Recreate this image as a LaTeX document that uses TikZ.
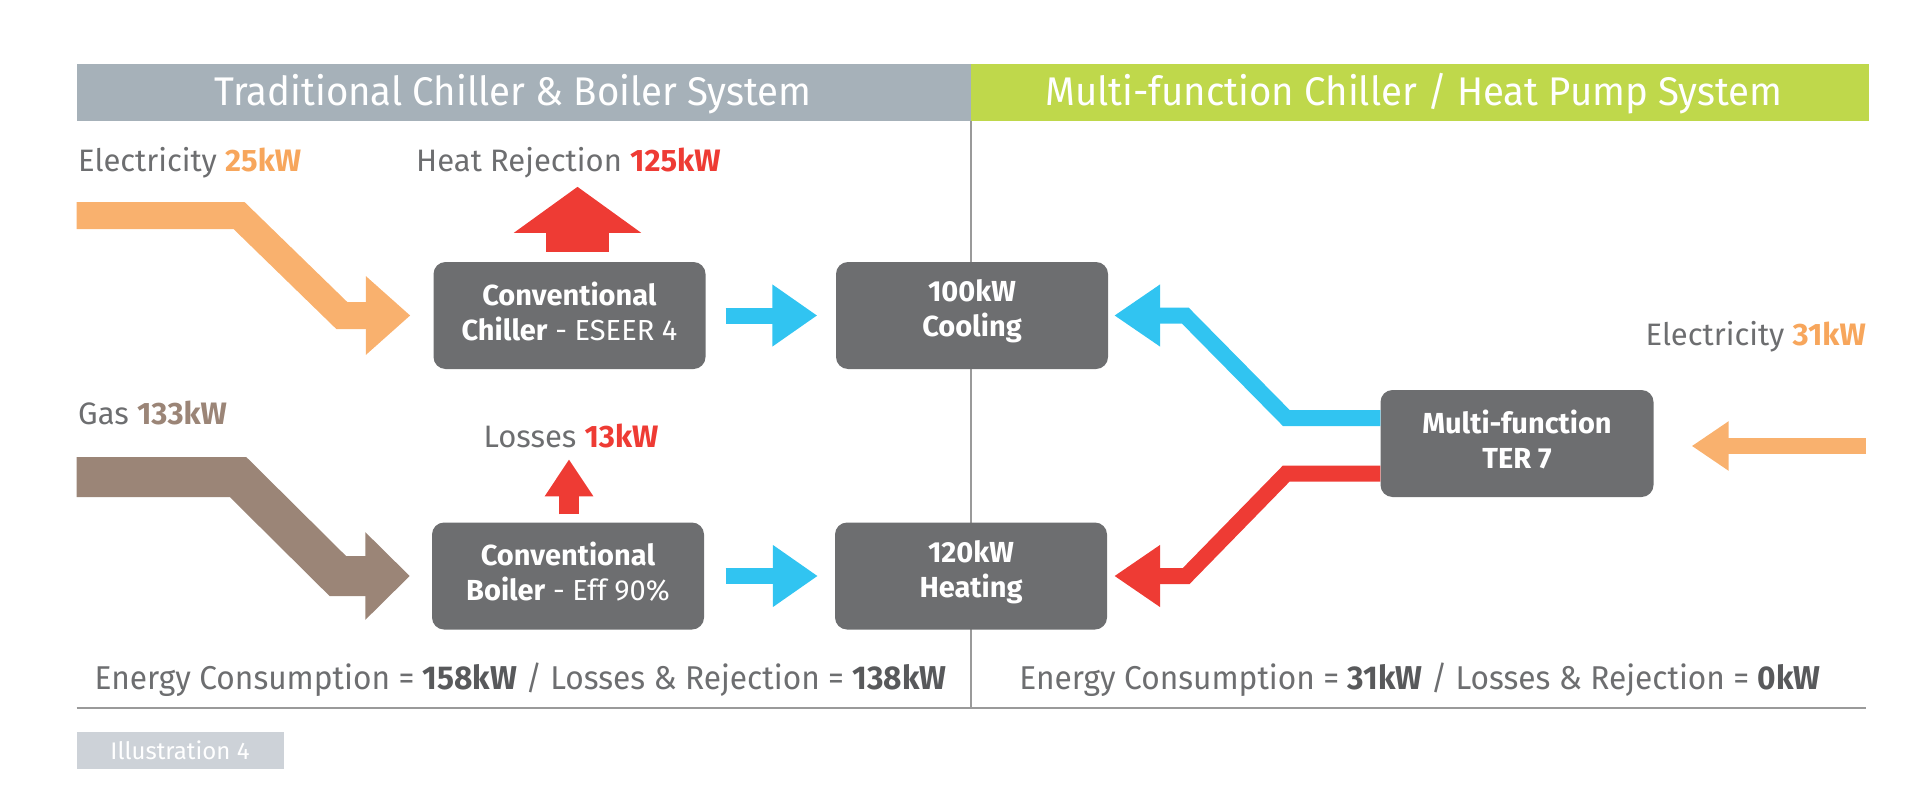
\documentclass[tikz,border=0pt]{standalone}
\usepackage{fontspec}
\setmainfont{Fira Sans}
\newfontfamily\condfont[FakeStretch=0.96]{Fira Sans}
\usetikzlibrary{arrows.meta,calc}
\definecolor{hdrgray}{HTML}{A6B1B9}
\definecolor{hdrgreen}{HTML}{BFD84B}
\definecolor{orangeA}{HTML}{F9B16E}
\definecolor{orangeT}{HTML}{F7A65C}
\definecolor{redA}{HTML}{EE3B34}
\definecolor{brownA}{HTML}{9B8577}
\definecolor{blueA}{HTML}{31C4F1}
\definecolor{boxgray}{HTML}{6D6E70}
\definecolor{txtgray}{HTML}{6D6E70}
\definecolor{txtdark}{HTML}{58595B}
\definecolor{linegray}{HTML}{9A9A9A}
\definecolor{illgray}{HTML}{CDD2D8}
\begin{document}
\begin{tikzpicture}[x=1pt,y=-1pt,
  box/.style={fill=boxgray, rounded corners=12pt, minimum width=272pt, minimum height=107pt,
    inner sep=0pt},
  boxtxt/.style={align=center, text=white, inner sep=0pt, font=\fontsize{29}{35}\selectfont},
  lbl/.style={text=txtgray, inner sep=0pt, font=\fontsize{31}{36}\selectfont},
  hdr/.style={text=white, inner sep=0pt, font=\condfont\fontsize{40}{48}\selectfont},
  sumtxt/.style={text=txtgray, inner sep=0pt, font=\condfont\fontsize{33}{40}\selectfont},
  flow/.style={line join=miter, line cap=butt},
  bluearrow/.style={flow, draw=blueA, line width=16pt, -{Triangle[length=45pt,width=59pt]}},
  redbend/.style={flow, draw=redA, line width=16pt, -{Triangle[length=46pt,width=59pt]}},
]
\useasboundingbox (0,0) rectangle (1920,800);
% headers
\fill[hdrgray] (76.5,64) rectangle (971,121);
\fill[hdrgreen] (971,64) rectangle (1869,121);
\node[hdr, anchor=base] (h1) at (513,105) {Traditional Chiller \& Boiler System};
\node[hdr, anchor=base] (h2) at (1414,105) {Multi-function Chiller / Heat Pump System};
% divider and bottom line
\coordinate (dtop) at (971,121);
\coordinate (dbot) at (971,708);
\coordinate (bl) at (76.5,708);
\coordinate (br) at (1866,708);
\draw[linegray, line width=1.5pt] (dtop) -- (dbot);
\draw[linegray, line width=2pt] (bl) -- (br);
% boxes
\node[box] (chiller) at (569.5,315.5) {};
\node[box] (cooling) at (972,315.5) {};
\node[box] (boiler) at (568,576) {};
\node[box] (heating) at (971,576) {};
\node[box, minimum width=273pt] (multi) at (1517,443.5) {};
\node[boxtxt] (chillerT) at ($(chiller.center)+(0,-4)$) {\textbf{Conventional}\\\textbf{Chiller} - ESEER 4};
\node[boxtxt] (coolingT) at ($(cooling.center)+(0,-4)$) {\textbf{100kW}\\\textbf{Cooling}};
\node[boxtxt] (boilerT) at ($(boiler.center)+(0,-4)$) {\textbf{Conventional}\\\textbf{Boiler} - Eff 90\%};
\node[boxtxt] (heatingT) at ($(heating.center)+(0,-4)$) {\textbf{120kW}\\\textbf{Heating}};
\node[boxtxt] (multiT) at ($(multi.center)+(0,-4)$) {\textbf{Multi-function}\\\textbf{TER 7}};
% labels
\node[lbl, anchor=base west] (el1) at (78,171) {Electricity \textbf{\textcolor{orangeT}{25kW}}};
\node[lbl, anchor=base west] (hr) at (416,171) {Heat Rejection \textbf{\textcolor{redA}{125kW}}};
\node[lbl, anchor=base west] (gas) at (78,424) {Gas \textbf{\textcolor{brownA}{133kW}}};
\node[lbl, anchor=base] (loss) at (571,447) {Losses \textbf{\textcolor{redA}{13kW}}};
\node[lbl, anchor=base east] (el2) at (1866,345) {Electricity \textbf{\textcolor{orangeT}{31kW}}};
% summaries
\node[sumtxt, anchor=base] (sumL) at (520.5,689) {Energy Consumption = \textbf{\textcolor{txtdark}{158kW}} / Losses \& Rejection = \textbf{\textcolor{txtdark}{138kW}}};
\node[sumtxt, anchor=base] (sumR) at (1420,689) {Energy Consumption = \textbf{\textcolor{txtdark}{31kW}} / Losses \& Rejection = \textbf{\textcolor{txtdark}{0kW}}};
% illustration tag
\node[fill=illgray, minimum width=207pt, minimum height=37pt, inner sep=0pt, text=white,
  font=\fontsize{24}{28}\selectfont] (ill) at (180,750.5) {Illustration 4};
% electricity in (left)
\coordinate (elin) at (76.5,215.5);
\draw[flow, draw=orangeA, line width=27pt, -{Triangle[length=44.5pt,width=76pt]}]
  (elin) -- (239,215.5) -- ($(chiller.west)+(-91.5,0)$) -- ($(chiller.west)+(-23,0)$);
% gas in
\coordinate (gasin) at (76.5,477);
\draw[flow, draw=brownA, line width=40pt, -{Triangle[length=44.5pt,width=85pt]}]
  (gasin) -- (238,477) -- ($(boiler.west)+(-94,0)$) -- ($(boiler.west)+(-22,0)$);
% heat rejection
\draw[flow, draw=redA, line width=63pt, -{Triangle[length=46pt,width=125pt]}]
  ($(chiller.north)+(8,-10)$) -- ($(chiller.north)+(8,-75)$);
% losses
\draw[flow, draw=redA, line width=20.5pt, -{Triangle[length=37pt,width=46pt]}]
  ($(boiler.north)+(1,-8)$) -- ($(boiler.north)+(1,-63)$);
% chiller -> cooling, boiler -> heating
\draw[bluearrow] ($(chiller.east)+(20,0)$) -- ($(cooling.west)+(-18.5,0)$);
\draw[bluearrow] ($(boiler.east)+(21.5,0)$) -- ($(heating.west)+(-17,0)$);
% multi -> cooling
\draw[bluearrow, -{Triangle[length=46pt,width=59pt]}]
  ($(multi.west)+(0,-25.5)$) -- ($(multi.west)+(-94,-25.5)$) -- ($(cooling.east)+(77,0)$) -- ($(cooling.east)+(6,0)$);
% multi -> heating
\draw[redbend]
  ($(multi.west)+(0,30)$) -- ($(multi.west)+(-94,30)$) -- ($(heating.east)+(79,0)$) -- ($(heating.east)+(7,0)$);
% electricity in (right)
\coordinate (el2in) at (1866,446);
\draw[flow, draw=orangeA, line width=16.5pt, -{Triangle[length=37pt,width=47pt]}]
  (el2in) -- ($(multi.east)+(38,2.5)$);
\end{tikzpicture}
\end{document}
